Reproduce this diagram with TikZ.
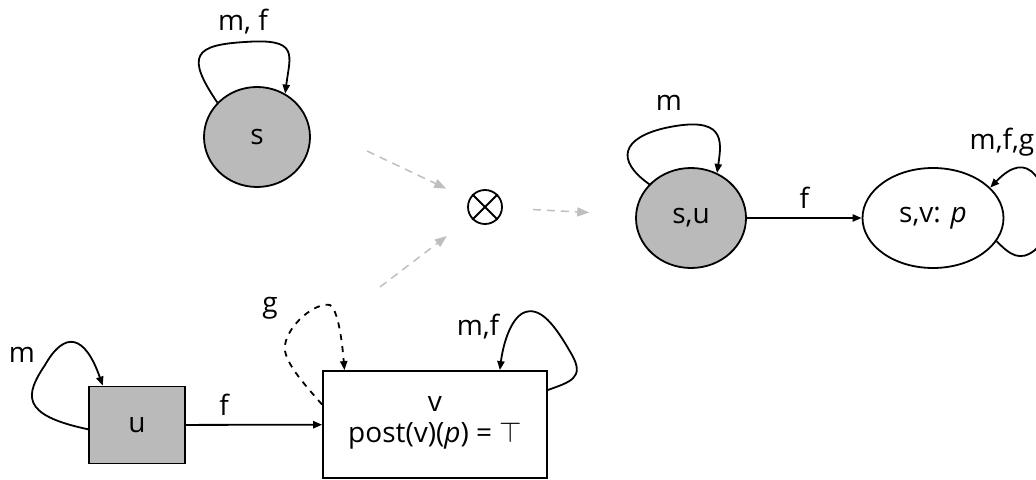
\documentclass[tikz,border=0pt]{standalone}
\usepackage{fontspec}
\setmainfont{Open Sans}
\usetikzlibrary{arrows.meta,shapes.geometric}
\begin{document}
\begin{tikzpicture}[x=0.5pt,y=-0.5pt,
        font=\fontsize{14}{15.5}\selectfont,
        line width=0.9pt,
        >={Triangle[length=4.5pt,width=3.6pt]},
        graystate/.style={draw,ellipse,fill=black!27,inner sep=0pt},
        plainstate/.style={draw,ellipse,fill=white,inner sep=0pt},
        graybox/.style={draw,rectangle,fill=black!27,inner sep=0pt},
        plainbox/.style={draw,rectangle,fill=white,inner sep=0pt,align=center},
        prodarrow/.style={draw=black!25,line width=0.75pt,dash pattern=on 4pt off 3pt,
            -{Triangle[length=6pt,width=4.5pt,fill=black!25]}}]
    \useasboundingbox (0,0) rectangle (1036,480);
    \begin{scope}
        \node[graystate,minimum width=53pt,minimum height=50pt] (s) at (257,137) {s};
        \node[draw,circle,minimum size=17pt,inner sep=0pt] (prod) at (485,207) {};
        \node[graystate,minimum width=55pt,minimum height=50pt] (su) at (691,218) {s,u};
        \node[plainstate,minimum width=70.5pt,minimum height=50pt] (sv) at (933,218) {s,v: \textit{p}};
        \node[graybox,minimum width=48pt,minimum height=38.5pt] (u) at (137,425) {u};
        \node[plainbox,minimum width=112pt,minimum height=53.5pt] (v) at (435,424.5) {v\\post(v)(\textit{p}) = $\top$\\[-11pt]\mbox{}};
    \end{scope}
    \draw (prod.north east) -- (prod.south west);
    \draw (prod.north west) -- (prod.south east);
    % labels of the loops
    \node (lbls) at (243,22) {m, f};
    \node (lblsu) at (669,103) {m};
    \node (lblsv) at (1002,142) {m,f,g};
    \node (lblu) at (22,355) {m};
    \node (lblvg) at (270,308) {g};
    \node (lblvmf) at (478,327) {m,f};
    % product
    \coordinate (froms) at (367,151);
    \coordinate (fromv) at (380,287);
    \draw[prodarrow,shorten >=12.5pt] (froms) -- (prod);
    \draw[prodarrow,shorten >=15pt] (fromv) -- (prod);
    \draw[prodarrow,shorten <=15pt,shorten >=23pt] (prod) -- (su);
    % edges
    \path [->] (su) edge node [above,yshift=1pt] {f} (sv);
    \path [->] (u) edge node [pos=0.28,above,yshift=1pt] {f} (v);
    % loops
    \draw[->] (s.139) .. controls (185,55) and (195,45) .. (245,42)
        .. controls (300,38) and (290,55) .. (s.57);
    \draw[->] (su.141) .. controls (615,160) and (622,138) .. (665,128)
        .. controls (725,115) and (722,140) .. (su.60);
    \draw[->] (sv.-20.5) .. controls (1010,255) and (1020,262) .. (1035,250)
        .. controls (1055,230) and (1050,190) .. (1035,175)
        .. controls (1025,163) and (1012,165) .. (sv.28.5);
    \draw[->] (u.185) .. controls (20,415) and (25,395) .. (45,365)
        .. controls (65,330) and (85,335) .. (u.131);
    \draw[->,dashed] (v.170) .. controls (305,385) and (282,360) .. (285,345)
        .. controls (288,325) and (315,302) .. (330,305)
        .. controls (338,310) and (342,340) .. (v.149);
    \draw[->] (v.17.6) .. controls (570,382) and (585,378) .. (572,355)
        .. controls (555,325) and (540,305) .. (523,313)
        .. controls (510,320) and (503,345) .. (v.40);
\end{tikzpicture}
\end{document}
